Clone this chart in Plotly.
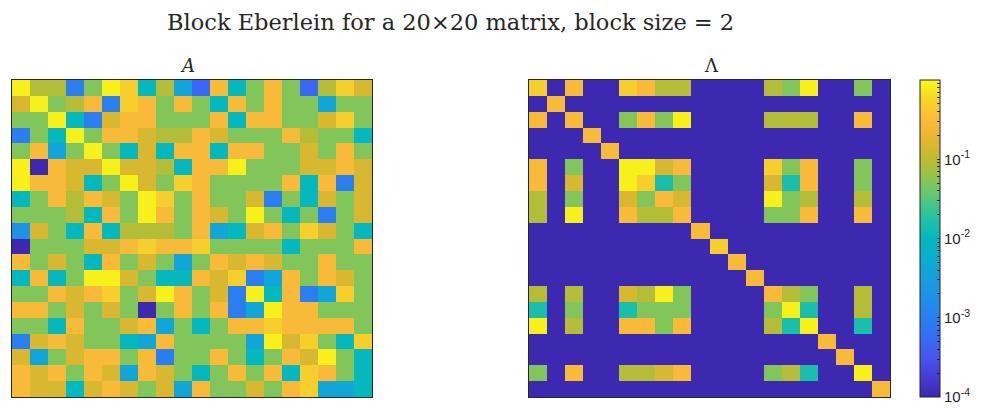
import numpy as np
import plotly.graph_objects as go

# ---- data -------------------------------------------------------------
# Magnitudes |a_ij| of the 20x20 input matrix A (row by row)
A_rows = [
    [0.85, 0.09, 0.09, 0.001, 0.05, 0.85, 0.5, 0.01, 0.09, 0.004, 0.0005, 0.3, 0.01, 0.05, 0.3, 0.05, 0.0005, 0.09, 0.5, 0.15],
    [0.15, 0.85, 0.05, 0.09, 0.3, 0.001, 0.5, 0.3, 0.05, 0.3, 0.05, 0.01, 0.3, 0.05, 0.3, 0.05, 0.05, 0.004, 0.05, 0.05],
    [0.05, 0.05, 0.85, 0.01, 0.001, 0.15, 0.3, 0.3, 0.05, 0.05, 0.05, 0.3, 0.01, 0.3, 0.3, 0.05, 0.05, 0.15, 0.5, 0.05],
    [0.001, 0.05, 0.01, 0.85, 0.05, 0.3, 0.3, 0.15, 0.09, 0.09, 0.3, 0.15, 0.05, 0.05, 0.05, 0.3, 0.09, 0.05, 0.05, 0.01],
    [0.05, 0.3, 0.004, 0.05, 0.85, 0.05, 0.01, 0.15, 0.01, 0.3, 0.3, 0.01, 0.3, 0.3, 0.05, 0.05, 0.15, 0.05, 0.3, 0.05],
    [0.85, 0.0001, 0.3, 0.15, 0.15, 0.85, 0.15, 0.15, 0.09, 0.01, 0.3, 0.3, 0.85, 0.05, 0.05, 0.05, 0.15, 0.15, 0.3, 0.15],
    [0.85, 0.3, 0.3, 0.15, 0.01, 0.05, 0.85, 0.15, 0.05, 0.5, 0.3, 0.05, 0.05, 0.05, 0.05, 0.3, 0.01, 0.3, 0.001, 0.15],
    [0.01, 0.05, 0.3, 0.09, 0.3, 0.15, 0.05, 0.85, 0.5, 0.05, 0.3, 0.05, 0.05, 0.15, 0.001, 0.05, 0.01, 0.15, 0.05, 0.15],
    [0.05, 0.05, 0.05, 0.09, 0.01, 0.3, 0.05, 0.85, 0.3, 0.05, 0.3, 0.15, 0.05, 0.85, 0.05, 0.01, 0.05, 0.001, 0.05, 0.15],
    [0.002, 0.15, 0.05, 0.01, 0.3, 0.01, 0.09, 0.09, 0.09, 0.05, 0.3, 0.004, 0.01, 0.15, 0.3, 0.05, 0.5, 0.15, 0.05, 0.01],
    [0.0001, 0.05, 0.05, 0.05, 0.15, 0.15, 0.3, 0.5, 0.3, 0.3, 0.5, 0.05, 0.05, 0.05, 0.05, 0.01, 0.05, 0.05, 0.05, 0.3],
    [0.3, 0.05, 0.15, 0.05, 0.01, 0.3, 0.05, 0.15, 0.05, 0.004, 0.05, 0.3, 0.15, 0.3, 0.15, 0.05, 0.05, 0.3, 0.05, 0.05],
    [0.01, 0.3, 0.01, 0.05, 0.85, 0.85, 0.15, 0.05, 0.01, 0.01, 0.3, 0.15, 0.5, 0.001, 0.004, 0.3, 0.05, 0.3, 0.15, 0.05],
    [0.05, 0.05, 0.3, 0.15, 0.3, 0.5, 0.05, 0.15, 0.85, 0.3, 0.05, 0.15, 0.001, 0.85, 0.01, 0.3, 0.001, 0.004, 0.5, 0.05],
    [0.3, 0.3, 0.05, 0.15, 0.05, 0.15, 0.05, 0.0001, 0.05, 0.3, 0.05, 0.3, 0.001, 0.004, 0.85, 0.3, 0.3, 0.05, 0.05, 0.05],
    [0.05, 0.05, 0.01, 0.3, 0.05, 0.05, 0.15, 0.3, 0.004, 0.05, 0.01, 0.05, 0.3, 0.3, 0.5, 0.3, 0.3, 0.3, 0.3, 0.05],
    [0.001, 0.15, 0.3, 0.15, 0.05, 0.05, 0.01, 0.004, 0.3, 0.05, 0.05, 0.05, 0.05, 0.004, 0.85, 0.15, 0.5, 0.05, 0.01, 0.5],
    [0.15, 0.004, 0.05, 0.15, 0.3, 0.3, 0.05, 0.3, 0.001, 0.05, 0.05, 0.3, 0.05, 0.01, 0.05, 0.3, 0.15, 0.85, 0.05, 0.01],
    [0.3, 0.15, 0.3, 0.05, 0.3, 0.15, 0.004, 0.3, 0.15, 0.05, 0.01, 0.05, 0.3, 0.05, 0.3, 0.01, 0.5, 0.3, 0.05, 0.01],
    [0.3, 0.15, 0.15, 0.01, 0.15, 0.3, 0.15, 0.05, 0.15, 0.004, 0.3, 0.05, 0.05, 0.15, 0.05, 0.3, 0.5, 0.004, 0.004, 0.01],
]

# Lambda: coupled index set and its dense block, plus the 1x1 diagonal entries
lam_coupled = [0, 2, 5, 6, 7, 8, 13, 14, 15, 18]
lam_block = [
    [0.5, 0.3, 0.5, 0.3, 0.09, 0.09, 0.09, 0.05, 0.85, 0.05],
    [0.3, 0.3, 0.05, 0.3, 0.05, 0.85, 0.09, 0.09, 0.09, 0.3],
    [0.3, 0.05, 0.85, 0.85, 0.15, 0.3, 0.5, 0.05, 0.3, 0.05],
    [0.3, 0.15, 0.85, 0.5, 0.015, 0.05, 0.15, 0.015, 0.3, 0.05],
    [0.09, 0.05, 0.15, 0.05, 0.3, 0.15, 0.85, 0.05, 0.09, 0.09],
    [0.09, 0.85, 0.3, 0.09, 0.09, 0.3, 0.05, 0.05, 0.3, 0.3],
    [0.09, 0.09, 0.15, 0.09, 0.85, 0.05, 0.3, 0.09, 0.05, 0.09],
    [0.015, 0.05, 0.015, 0.05, 0.05, 0.05, 0.05, 0.85, 0.015, 0.09],
    [0.85, 0.09, 0.3, 0.3, 0.05, 0.3, 0.09, 0.015, 0.85, 0.015],
    [0.05, 0.3, 0.09, 0.09, 0.15, 0.3, 0.05, 0.09, 0.015, 0.85],
]
lam_single_idx = [1, 3, 4, 9, 10, 11, 12, 16, 17, 19]
lam_single_val = [0.3, 0.3, 0.3, 0.3, 0.5, 0.3, 0.3, 0.3, 0.3, 0.3]

cbar_major = [-4, -3, -2, -1]
cbar_major_text = ["10<sup>-4</sup>", "10<sup>-3</sup>", "10<sup>-2</sup>", "10<sup>-1</sup>"]

# ---- assemble ---------------------------------------------------------
n = 20
A = np.array(A_rows, dtype=float)
Lam = np.zeros((n, n))
for bi, i in enumerate(lam_coupled):
    for bj, j in enumerate(lam_coupled):
        Lam[i, j] = lam_block[bi][bj]
for i, v in zip(lam_single_idx, lam_single_val):
    Lam[i, i] = v

floor = 1e-4
zA = np.log10(np.maximum(A, floor))
zL = np.log10(np.maximum(Lam, floor))

# colorbar ticks: decades labelled, log-spaced minor ticks unlabelled
tickvals, ticktext = [], []
for d, lab in zip(cbar_major, cbar_major_text):
    tickvals.append(d)
    ticktext.append(lab)
    for m in range(2, 10):
        v = d + np.log10(m)
        if v < 0:
            tickvals.append(v)
            ticktext.append("")

# parula-like colour map
parula = [
    [0.00, "rgb(61,40,176)"],
    [0.06, "rgb(70,58,210)"],
    [0.13, "rgb(70,88,240)"],
    [0.20, "rgb(52,112,246)"],
    [0.27, "rgb(38,132,238)"],
    [0.35, "rgb(28,152,226)"],
    [0.43, "rgb(12,172,208)"],
    [0.50, "rgb(4,184,190)"],
    [0.57, "rgb(40,193,160)"],
    [0.64, "rgb(100,200,115)"],
    [0.70, "rgb(152,195,72)"],
    [0.76, "rgb(196,186,46)"],
    [0.82, "rgb(232,182,52)"],
    [0.88, "rgb(252,188,58)"],
    [0.94, "rgb(245,214,40)"],
    [1.00, "rgb(249,251,20)"],
]

x0, x1 = 12 / 987, 372 / 987
x2, x3 = 529 / 987, 890 / 987
ytop, ybot = 1 - 80 / 408, 1 - 397 / 408

idx = list(range(1, n + 1))

fig = go.Figure()
fig.add_trace(go.Heatmap(z=zA, x=idx, y=idx, colorscale=parula, zmin=-4, zmax=0,
                         showscale=False, xaxis="x", yaxis="y", hoverinfo="skip"))
fig.add_trace(go.Heatmap(z=zL, x=idx, y=idx, colorscale=parula, zmin=-4, zmax=0,
                         xaxis="x2", yaxis="y2", hoverinfo="skip",
                         colorbar=dict(
                             x=920 / 987, xanchor="left", xpad=0,
                             y=ybot, yanchor="bottom", ypad=0,
                             len=317 / 408, lenmode="fraction",
                             thickness=20, thicknessmode="pixels",
                             outlinecolor="#262626", outlinewidth=1,
                             tickmode="array", tickvals=tickvals, ticktext=ticktext,
                             ticks="inside", ticklen=3, tickcolor="#262626",
                             tickfont=dict(family="Liberation Sans, Arial", size=15, color="#262626"),
                         )))

ax_common = dict(showticklabels=False, ticks="", showgrid=False, zeroline=False,
                 showline=True, mirror=True, linecolor="#262626", linewidth=1)
fig.update_layout(
    width=987, height=408,
    margin=dict(l=0, r=0, t=0, b=0),
    paper_bgcolor="white", plot_bgcolor="white",
    xaxis=dict(domain=[x0, x1], anchor="y", range=[0.5, n + 0.5], **ax_common),
    yaxis=dict(domain=[ybot, ytop], anchor="x", range=[n + 0.5, 0.5], **ax_common),
    xaxis2=dict(domain=[x2, x3], anchor="y2", range=[0.5, n + 0.5], **ax_common),
    yaxis2=dict(domain=[ybot, ytop], anchor="x2", range=[n + 0.5, 0.5], **ax_common),
    annotations=[
        dict(text="Block Eberlein for a 20×20 matrix, block size = 2",
             x=450 / 987, y=1 - 22 / 408, xref="paper", yref="paper",
             showarrow=False, xanchor="center", yanchor="middle",
             font=dict(family="DejaVu Serif, serif", size=22.5, color="#262626")),
        dict(text="<i>A</i>", x=187 / 987, y=1 - 65 / 408, xref="paper", yref="paper",
             showarrow=False, xanchor="center", yanchor="middle",
             font=dict(family="DejaVu Serif, serif", size=18, color="#262626")),
        dict(text="Λ", x=711 / 987, y=1 - 65 / 408, xref="paper", yref="paper",
             showarrow=False, xanchor="center", yanchor="middle",
             font=dict(family="DejaVu Serif, serif", size=18, color="#262626")),
    ],
)

fig.write_html("out.html")
